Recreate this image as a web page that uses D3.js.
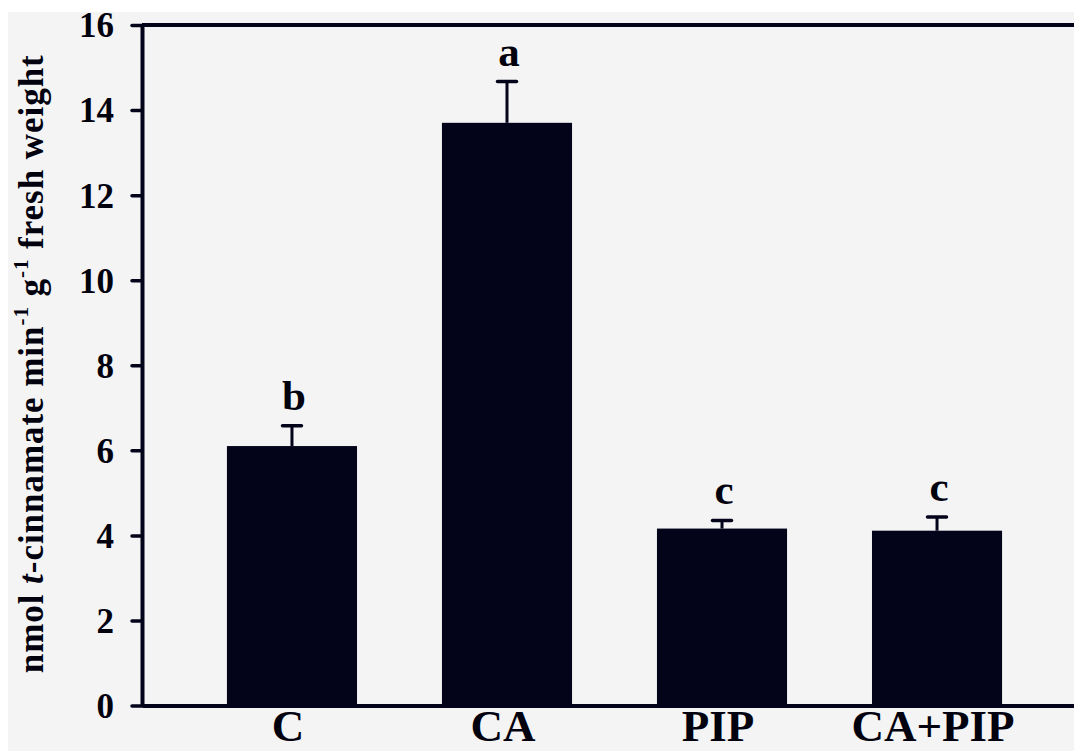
<!DOCTYPE html>
<html>
<head>
<meta charset="utf-8">
<script src="https://cdn.jsdelivr.net/npm/d3@7"></script>
<style>
  html, body { margin: 0; padding: 0; background: #ffffff; }
  svg { display: block; }
  text { font-family: "Liberation Serif", "Times New Roman", serif; font-weight: bold; fill: #02020f; }
</style>
</head>
<body>
<svg id="chart" width="1074" height="751"></svg>
<script>
const categories = ["C", "CA", "PIP", "CA+PIP"];
const means = [6.10, 13.70, 4.16, 4.11];
const errors = [0.48, 0.97, 0.19, 0.32];
const letters = ["b", "a", "c", "c"];
const yTicks = [0, 2, 4, 6, 8, 10, 12, 14, 16];
const yMax = 16;

const data = categories.map((c, i) => ({ cat: c, mean: means[i], err: errors[i], letter: letters[i] }));

const W = 1074, H = 751;
const ink = "#03031a";
const svg = d3.select("#chart");

// background panel
svg.append("rect").attr("x", 8).attr("y", 12).attr("width", W - 8).attr("height", H - 12).attr("fill", "#f4f4f4");

const x = d3.scaleBand().domain(categories).range([142, 1087]).paddingInner(0.395).paddingOuter(0.395);
const y = d3.scaleLinear().domain([0, yMax]).range([705.5, 25]);

// bars
svg.append("g").selectAll("rect").data(data).join("rect")
  .attr("x", d => x(d.cat))
  .attr("width", x.bandwidth())
  .attr("y", d => y(d.mean))
  .attr("height", d => y(0) - y(d.mean))
  .attr("fill", ink);

// error bars
const eb = svg.append("g").attr("stroke", ink);
eb.selectAll("line.stem").data(data).join("line").attr("class", "stem")
  .attr("x1", d => x(d.cat) + x.bandwidth() / 2)
  .attr("x2", d => x(d.cat) + x.bandwidth() / 2)
  .attr("y1", d => y(d.mean))
  .attr("y2", d => y(d.mean + d.err))
  .attr("stroke-width", 3);
eb.selectAll("line.cap").data(data).join("line").attr("class", "cap")
  .attr("x1", d => x(d.cat) + x.bandwidth() / 2 - 9.5)
  .attr("x2", d => x(d.cat) + x.bandwidth() / 2 + 9.5)
  .attr("y1", d => y(d.mean + d.err))
  .attr("y2", d => y(d.mean + d.err))
  .attr("stroke-width", 3.5)
  .attr("stroke-linecap", "round");

// significance letters
svg.append("g").selectAll("text").data(data).join("text")
  .attr("x", d => x(d.cat) + x.bandwidth() / 2 + 2)
  .attr("y", d => y(d.mean + d.err) - 16)
  .attr("text-anchor", "middle")
  .attr("font-size", 43)
  .text(d => d.letter);

// top frame line
svg.append("line")
  .attr("x1", 142).attr("x2", 1087)
  .attr("y1", y(yMax)).attr("y2", y(yMax))
  .attr("stroke", ink).attr("stroke-width", 4);

// y axis
const yAxis = svg.append("g").attr("transform", "translate(142,0)")
  .call(d3.axisLeft(y).tickValues(yTicks).tickSize(10).tickSizeOuter(0).tickPadding(18));
yAxis.select(".domain").attr("stroke", ink).attr("stroke-width", 4);
yAxis.selectAll(".tick line").attr("stroke", ink).attr("stroke-width", 3.5).attr("stroke-linecap", "round");
yAxis.selectAll(".tick text").attr("font-size", 35).attr("font-family", null).attr("fill", "#02020f").attr("dy", "0.34em");

// x axis
const xAxis = svg.append("g").attr("transform", `translate(0,${y(0)})`)
  .call(d3.axisBottom(x).tickSize(0).tickSizeOuter(0));
xAxis.select(".domain").attr("stroke", ink).attr("stroke-width", 4);
xAxis.selectAll(".tick text").attr("font-size", 45).attr("font-family", null).attr("fill", "#02020f")
  .attr("y", 35).attr("dy", 0).attr("dx", -4);

// y axis title
const title = svg.append("text")
  .attr("transform", `translate(43,${(y(0) + y(yMax)) / 2 - 1}) rotate(-90)`)
  .attr("text-anchor", "middle")
  .attr("font-size", 35)
  .attr("textLength", 618)
  .attr("lengthAdjust", "spacing");
title.append("tspan").text("nmol ");
title.append("tspan").attr("font-style", "italic").text("t");
title.append("tspan").text("-cinnamate min");
title.append("tspan").attr("font-size", 21).attr("dy", -15).text("-1");
title.append("tspan").attr("dy", 15).text(" g");
title.append("tspan").attr("font-size", 21).attr("dy", -15).text("-1");
title.append("tspan").attr("dy", 15).text(" fresh weight");
</script>
</body>
</html>
